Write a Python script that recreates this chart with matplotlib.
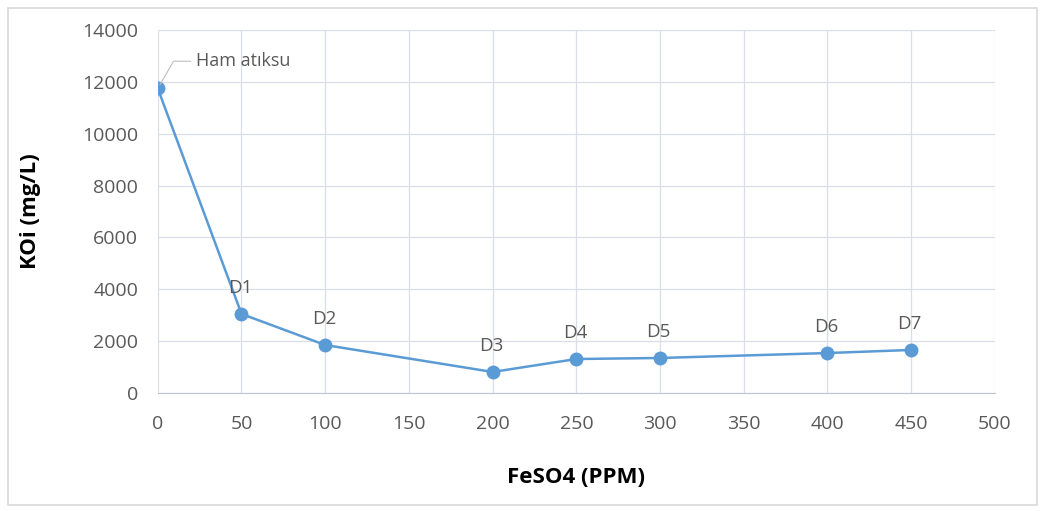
import matplotlib
matplotlib.use('Agg')
from matplotlib import pyplot as plt
from matplotlib.patches import Rectangle

# data
feso4 = [0, 50, 100, 200, 250, 300, 400, 450]
koi = [11750, 3050, 1850, 810, 1310, 1350, 1540, 1660]
point_labels = ['Ham atıksu', 'D1', 'D2', 'D3', 'D4', 'D5', 'D6', 'D7']

line_color = '#5B9BD5'
text_color = '#595959'
grid_color = '#D9DEE8'

plt.rcParams['font.family'] = ['Open Sans', 'DejaVu Sans']

fig = plt.figure(figsize=(10.45, 5.11), dpi=100)
ax = fig.add_axes([0.151, 0.231, 0.801, 0.710])

fig.patches.append(Rectangle((0.008, 0.012), 0.984, 0.972, transform=fig.transFigure,
                             fill=False, edgecolor='#D9D9D9', linewidth=1.2))

ax.plot(feso4, koi, color=line_color, linewidth=1.8, marker='o', markersize=9,
        markerfacecolor=line_color, markeredgecolor=line_color, zorder=3)

for x, y, lbl in zip(feso4, koi, point_labels):
    if lbl == 'Ham atıksu':
        ax.annotate(lbl, xy=(x, y), xytext=(x + 23, y + 1050), color=text_color,
                    fontsize=13, va='center', ha='left',
                    arrowprops=dict(arrowstyle='-', color='#BFBFBF', lw=0.8,
                                    connectionstyle='angle,angleA=0,angleB=60,rad=0',
                                    shrinkA=2, shrinkB=3))
    else:
        ax.annotate(lbl, xy=(x, y), xytext=(-1, 12), textcoords='offset points',
                    color=text_color, fontsize=13.5, ha='center', va='bottom')

ax.set_xlim(0, 500)
ax.set_ylim(0, 14000)
ax.set_xticks(range(0, 501, 50))
ax.set_yticks(range(0, 14001, 2000))
ax.grid(True, color=grid_color, linewidth=0.9)
ax.set_axisbelow(True)
for side in ['top', 'right', 'left']:
    ax.spines[side].set_visible(False)
ax.spines['bottom'].set_color('#BFC5D0')
ax.tick_params(length=0, colors=text_color, labelsize=14)
ax.tick_params(axis='y', pad=14)
ax.tick_params(axis='x', pad=16)

ax.set_xlabel('FeSO4 (PPM)', fontsize=16, fontweight='bold', color='black')
ax.set_ylabel('KOi (mg/L)', fontsize=16, fontweight='bold', color='black')
ax.xaxis.set_label_coords(0.5, -0.205)
ax.yaxis.set_label_coords(-0.14, 0.5)

fig.savefig('out.png', dpi=100)
